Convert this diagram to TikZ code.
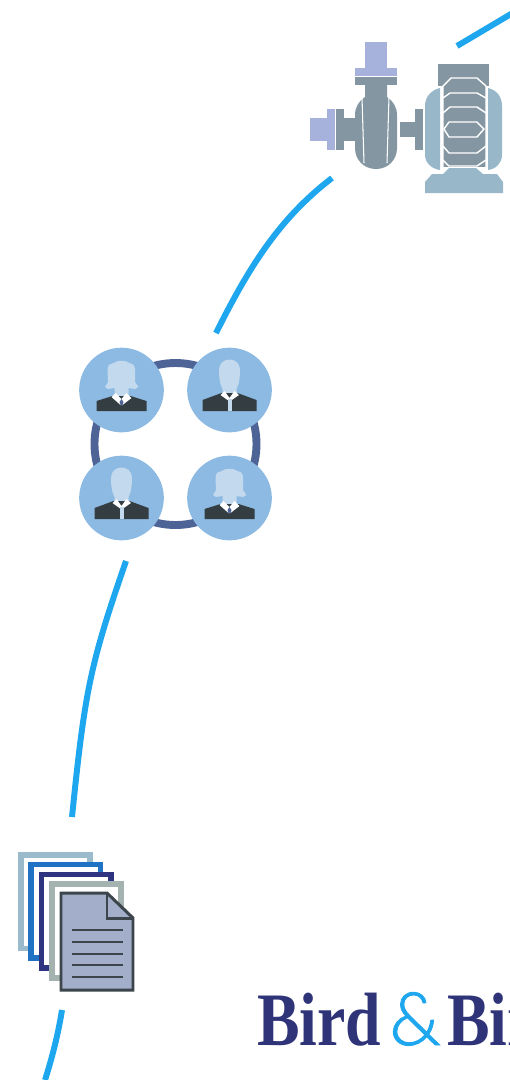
\documentclass[tikz,border=0pt]{standalone}
\usepackage{fontspec}
\setmainfont{Liberation Serif}
\newfontfamily\ampfont[FakeBold=1.2]{Lato Light}
\definecolor{arcblue}{HTML}{1EA7EE}
\definecolor{ringblue}{HTML}{4F6496}
\definecolor{discblue}{HTML}{8DBAE2}
\definecolor{headblue}{HTML}{C3D9EE}
\definecolor{suitgray}{HTML}{333D42}
\definecolor{pumpgray}{HTML}{8496A2}
\definecolor{pumplilac}{HTML}{A6B2DC}
\definecolor{motorblue}{HTML}{98B8CA}
\definecolor{sheetfill}{HTML}{A3AECA}
\definecolor{sheetedge}{HTML}{3B454B}
\definecolor{logonavy}{HTML}{2F3479}
\tikzset{
  arc/.style={arcblue,line width=3.4pt},
  disc/.style={circle,fill=discblue,minimum size=48.2pt,inner sep=0pt},
  sheet/.style={fill=white,line width=3.2pt},
  sheetline/.style={sheetedge,line width=1.5pt},
  motorline/.style={white,line width=0.8pt},
  logotext/.style={inner sep=0pt,anchor=base west,logonavy,xscale=0.845,transform shape,font=\fontsize{43}{43}\selectfont\bfseries},
  femaleicon/.pic={
    \fill[headblue] (-7,6) -- (-7,-2) -- (-13.5,-1) -- (-16.5,-3) -- (-13.5,-8) -- (-14,-20)
      .. controls (-14,-25) and (-11,-27) .. (-8,-27) .. controls (-4,-30) and (4,-30) .. (8,-27)
      .. controls (11,-27) and (13.5,-25) .. (13.5,-20) -- (13.5,-8) -- (17,-3) -- (13.5,-1) -- (7,-2) -- (7,6) -- cycle;
    \fill[suitgray] (-25,21) -- (-25,11) -- (-9,6) -- (9,6) -- (25,11) -- (25,21) -- cycle;
    \fill[white] (-10,7) -- (-6,3) -- (0,9) -- (5,3) -- (10,8) -- (1,15) -- (-1,15) -- cycle;
    \fill[ringblue] (-2,12) -- (0,9) -- (2,12) -- (1,15) -- (-1,15) -- cycle;
  },
  maleicon/.pic={
    \fill[headblue] (-7,5) -- (-7,-1) .. controls (-10,-6) and (-10.5,-14) .. (-10.5,-20)
      .. controls (-10.5,-34) and (10.5,-34) .. (10.5,-20) .. controls (10.5,-14) and (10,-6) .. (7,-1) -- (7,5) -- cycle;
    \fill[suitgray] (-27,21) -- (-27,10) -- (-8,3) -- (8,3) -- (27,10) -- (27,21) -- cycle;
    \fill[white] (-9,5) -- (-5,1) -- (0,8) -- (5,1) -- (9.5,5) -- (2.3,10) -- (-2,10) -- cycle;
    \fill[headblue] (-2,9) rectangle (2.3,21);
  }
}
\begin{document}
\begin{tikzpicture}[x=0.02cm,y=-0.02cm]
  \useasboundingbox (0,0) rectangle (510,1080);
  % arcs
  \coordinate (pumpin) at (457,46);
  \coordinate (pumpinend) at (516,11);
  \coordinate (pumpout) at (332,178);
  \coordinate (teamin) at (216,333);
  \coordinate (teamout) at (126,561);
  \coordinate (docsin) at (72,817);
  \coordinate (docsout) at (62,1010);
  \coordinate (pagefoot) at (45,1080);
  \draw[arc] (pumpin) -- (pumpinend);
  \draw[arc] (pumpout) .. controls (280,218) and (250,265) .. (teamin);
  \draw[arc] (teamout) .. controls (90,665) and (85,690) .. (docsin);
  \draw[arc] (docsout) .. controls (58,1035) and (52,1058) .. (pagefoot);
  % pump
  \fill[pumplilac] (365,42) rectangle (387,68);
  \fill[pumplilac] (355,68) rectangle (397,76);
  \fill[pumplilac] (310,118) rectangle (327,141);
  \fill[pumplilac] (327,109) rectangle (335,150);
  \fill[pumpgray] (355,77) rectangle (397,85);
  \fill[pumpgray] (336,109) rectangle (344,150);
  \fill[pumpgray] (344,118) rectangle (356,141);
  \fill[pumpgray] (400,122) rectangle (415,137);
  \fill[pumpgray] (415,109) rectangle (423,150);
  \fill[pumpgray] (365,85) -- (387,85) -- (387,97) .. controls (393,101) and (397,107) .. (397,115)
    -- (397,148) .. controls (397,160) and (388,169) .. (376,169) .. controls (364,169) and (355,160) .. (355,148)
    -- (355,115) .. controls (355,107) and (359,101) .. (365,97) -- cycle;
  \draw[white,line width=0.6pt] (362,97) -- (364,163);
  \draw[white,line width=0.6pt] (389,97) -- (387,163);
  % motor
  \fill[pumpgray] (438,64) rectangle (489,86);
  \fill[pumpgray] (443,86) rectangle (486,167);
  \fill[motorblue] (440,88) .. controls (431,90) and (425,97) .. (425,106) -- (425,155)
    .. controls (425,163) and (432,169) .. (440,170) -- cycle;
  \fill[motorblue] (488,88) .. controls (497,90) and (502,97) .. (502,106) -- (502,155)
    .. controls (502,163) and (496,169) .. (488,170) -- cycle;
  \draw[motorline] (443,172) -- (443,86) -- (451,78) -- (477,78) -- (486,86) -- (486,172);
  \draw[motorline] (443,98) -- (450,93) -- (477,93) -- (486,98);
  \draw[motorline] (443,113) -- (450,107) -- (477,107) -- (486,113);
  \draw[motorline] (444,129) -- (449,122) -- (477,122) -- (484,129) -- (477,137) -- (449,137) -- cycle;
  \draw[motorline] (443,146) -- (449,153) -- (477,153) -- (486,146);
  \draw[motorline] (443,160) -- (449,166) -- (477,166) -- (486,160);
  \fill[motorblue] (425,193) -- (425,182) -- (432,174) -- (443,174) -- (449,168) -- (476,168) -- (483,174) -- (497,174) -- (503,182) -- (503,193) -- cycle;
  % team
  \draw[ringblue,line width=4.5pt] (175.5,444) circle (81);
  \node[disc] (discnw) at (121.5,390) {};
  \node[disc] (discne) at (229.5,390) {};
  \node[disc] (discsw) at (121.5,498) {};
  \node[disc] (discse) at (229.5,498) {};
  \pic at (discnw) {femaleicon};
  \pic at (discne) {maleicon};
  \pic at (discsw) {maleicon};
  \pic at (discse) {femaleicon};
  % documents
  \foreach \k/\col in {0/9BBACB,1/1F72C4,2/2F3480,3/A5B3B0}
    {\definecolor{sheetcol}{HTML}{\col}
     \pgfmathsetmacro{\xa}{20.8+\k*10.3}
     \pgfmathsetmacro{\ya}{854.8+\k*9.8}
     \draw[sheet,draw=sheetcol] (\xa,\ya) rectangle (\xa+69.5,\ya+93.5);}
  \draw[sheet,fill=sheetfill,draw=sheetedge,line width=1.7pt,line join=miter] (61,893) -- (107,893) -- (133,918) -- (133,990) -- (61,990) -- cycle;
  \draw[sheetedge,line width=1.7pt] (107,893) -- (107,918) -- (133,918);
  \foreach \k in {930,942,954,965,977}
    {\draw[sheetline] (72,\k) -- (123,\k);}
  % logo
  \node[logotext] (logoleft) at (257,1045) {Bird};
  \node[inner sep=0pt,anchor=base west,arcblue,font=\fontsize{42}{42}\selectfont\ampfont] (logoamp) at (389,1045) {\&};
  \node[logotext] (logoright) at (447,1045) {Bird};
\end{tikzpicture}
\end{document}
